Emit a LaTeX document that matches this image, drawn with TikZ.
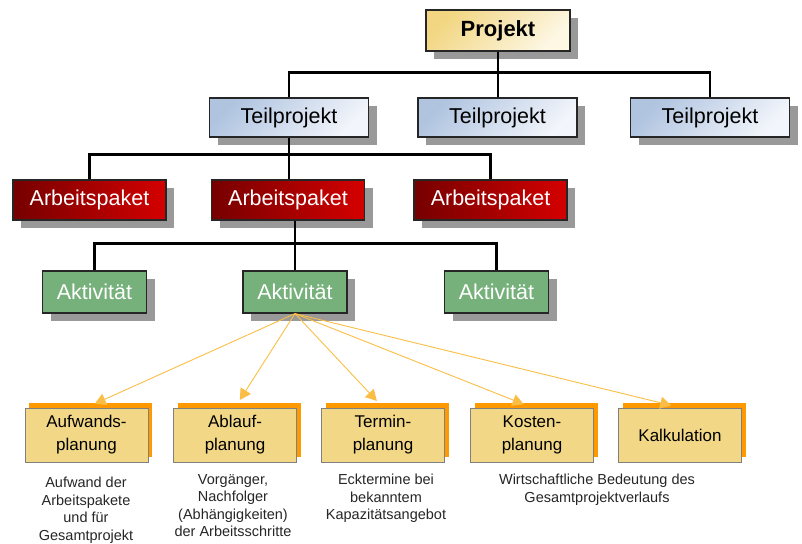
\documentclass[tikz,border=0pt]{standalone}
\usepackage{fontspec}
\setmainfont{Liberation Sans}
\usepackage{tikz}
\usepackage{xcolor}
\usetikzlibrary{shadows}
\usetikzlibrary{arrows.meta}
\definecolor{projtop}{RGB}{242,214,130}
\definecolor{projlow}{RGB}{253,247,228}
\definecolor{teiltop}{RGB}{176,196,224}
\definecolor{teillow}{RGB}{242,245,251}
\definecolor{paketdark}{RGB}{118,0,0}
\definecolor{paketlight}{RGB}{212,0,0}
\definecolor{aktgreen}{RGB}{118,176,122}
\definecolor{planfill}{RGB}{242,216,134}
\definecolor{planorange}{RGB}{255,153,0}
\definecolor{arrowgold}{RGB}{250,190,70}
\tikzset{box/.style={draw=black!85, line width=1.2pt, inner sep=0pt,
   font=\fontsize{21.5}{24}\selectfont,
   drop shadow={shadow xshift=8pt, shadow yshift=-8pt, fill=black!40, opacity=1}},
 proj/.style={box, minimum width=144pt, minimum height=41pt,
   top color=projtop, bottom color=projlow, shading angle=45,
   font=\fontsize{22}{24}\selectfont\bfseries},
 teil/.style={box, minimum width=159pt, minimum height=39pt,
   top color=teiltop, bottom color=teillow, shading angle=45},
 paket/.style={box, minimum width=153pt, minimum height=40pt,
   left color=paketdark, right color=paketlight, text=white},
 akt/.style={box, minimum width=104pt, minimum height=42pt,
   fill=aktgreen, text=white},
 plan/.style={draw=black!50, line width=1pt, fill=planfill, inner sep=0pt,
   minimum width=123pt, minimum height=54pt, align=center,
   font=\fontsize{17}{23}\selectfont,
   general shadow={fill=planorange, shadow xshift=4pt, shadow yshift=5pt}},
 desc/.style={anchor=north, inner sep=0pt, align=center, text=black!85,
   font=\fontsize{14.5}{17.5}\selectfont},
 bus/.style={draw=black, line width=2.8pt},
 pointer/.style={draw=arrowgold, line width=0.9pt, shorten >=9pt,
   -{Triangle[length=11pt,width=12pt]}},
 }

\begin{document}
\begin{tikzpicture}[x=1pt,y=-1pt]
        \useasboundingbox (0,0) rectangle (802,543);
        % hierarchy
        \node[proj] (proj) at (498,30.5) {Projekt};
        \node[teil] (tp1) at (289,117.5) {Teilprojekt};
        \node[teil] (tp2) at (497.5,117.5) {Teilprojekt};
        \node[teil] (tp3) at (710,117.5) {Teilprojekt};
        \node[paket] (ap1) at (89.5,200) {Arbeitspaket};
        \node[paket] (ap2) at (288,200) {Arbeitspaket};
        \node[paket] (ap3) at (490.5,200) {Arbeitspaket};
        \node[akt] (act1) at (94.5,292) {Aktivität};
        \node[akt] (act2) at (295,292) {Aktivität};
        \node[akt] (act3) at (496.5,292) {Aktivität};
        \draw[bus] (proj.south) -- ++(0,21) -| (tp1.north);
        \draw[bus] (proj.south) -- ++(0,21) -| (tp3.north);
        \draw[bus] (proj.south) -- (proj.south |- tp2.north);
        \draw[bus] (tp1.south) -- ++(0,17) -| (ap1.north);
        \draw[bus] (tp1.south) -- ++(0,17) -| (ap3.north);
        \draw[bus] (tp1.south) -- (tp1.south |- ap2.north);
        \draw[bus] (ap2.south -| act2.north) -- ++(0,23) -| (act1.north);
        \draw[bus] (ap2.south -| act2.north) -- ++(0,23) -| (act3.north);
        \draw[bus] (ap2.south -| act2.north) -- (act2.north);
        % planning
        \node[plan] (b1) at (86.5,435) {Aufwands-\\planung};
        \node[plan] (b2) at (235,435) {Ablauf-\\planung};
        \node[plan] (b3) at (383,435) {Termin-\\planung};
        \node[plan] (b4) at (532,435) {Kosten-\\planung};
        \node[plan] (b5) at (680,435) {Kalkulation};
        \foreach \b in {b1,b2,b3,b4,b5}
            \draw[pointer] (act2.south) -- (\b.north);
        \node[desc] (d1) at (86,477) {Aufwand der\\Arbeitspakete\\und für\\Gesamtprojekt};
        \node[desc] (d2) at (233,474) {Vorgänger,\\Nachfolger\\(Abhängigkeiten)\\der Arbeitsschritte};
        \node[desc] (d3) at (386,474) {Ecktermine bei\\bekanntem\\Kapazitätsangebot};
        \node[desc] (d4) at (597,474) {Wirtschaftliche Bedeutung des\\Gesamtprojektverlaufs};
    \end{tikzpicture}
\end{document}
